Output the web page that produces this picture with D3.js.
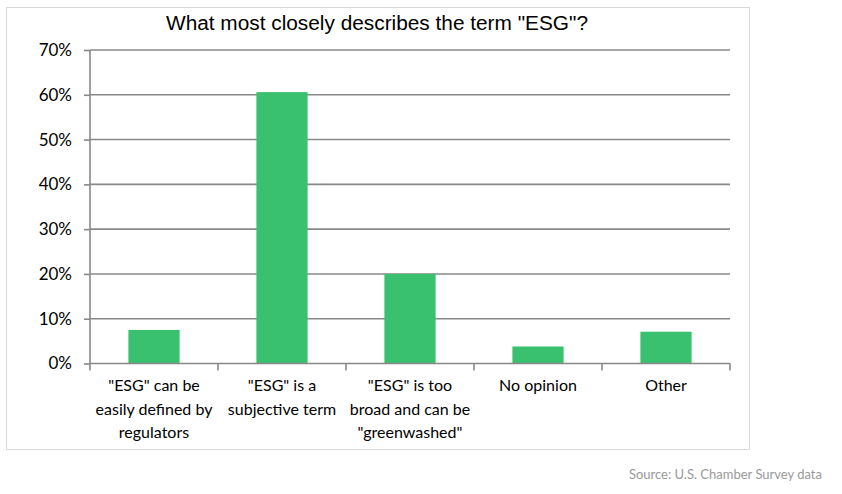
<!DOCTYPE html>
<html><head><meta charset="utf-8">
<script src="https://cdn.jsdelivr.net/npm/d3@7"></script>
<style>body{margin:0;background:#fff}svg{display:block}</style>
</head><body>
<svg id="c" width="842" height="494"></svg>
<script>
const categories = [
  ['"ESG" can be', 'easily defined by', 'regulators'],
  ['"ESG" is a', 'subjective term'],
  ['"ESG" is too', 'broad and can be', '"greenwashed"'],
  ['No opinion'],
  ['Other']
];
const values = [0.075, 0.606, 0.20, 0.038, 0.071];
const yTicks = [0, 0.1, 0.2, 0.3, 0.4, 0.5, 0.6, 0.7];
const title = 'What most closely describes the term "ESG"?';
const source = 'Source: U.S. Chamber Survey data';

(function () {
const svg = d3.select('#c');
const mL = 90, mR = 730, mT = 50, mB = 363.5;
const font = 'Lato, "Open Sans", sans-serif';

svg.append('rect').attr('x', 6.5).attr('y', 7.5).attr('width', 743).attr('height', 442)
  .attr('fill', '#fff').attr('stroke', '#d9d9d9').attr('stroke-width', 1);

const x = d3.scaleBand().domain(d3.range(categories.length)).range([mL, mR]).padding(0);
const y = d3.scaleLinear().domain([0, 0.7]).range([mB, mT]);

// gridlines
svg.append('g').selectAll('line').data(yTicks.filter(d => d > 0)).join('line')
  .attr('x1', mL).attr('x2', mR).attr('y1', d => y(d)).attr('y2', d => y(d))
  .attr('stroke', '#888').attr('stroke-width', 1.6);

// bars
const bw = x.bandwidth() * 0.4;
svg.append('g').selectAll('rect').data(values).join('rect')
  .attr('x', (d, i) => x(i) + (x.bandwidth() - bw) / 2)
  .attr('width', bw)
  .attr('y', d => y(d)).attr('height', d => y(0) - y(d))
  .attr('fill', '#39c16f');

// y axis
const yAxis = d3.axisLeft(y).tickValues(yTicks).tickFormat(d3.format('.0%')).tickSize(6).tickPadding(12);
const ga = svg.append('g').attr('transform', `translate(${mL},0)`).call(yAxis);
ga.select('.domain').attr('stroke', '#888').attr('stroke-width', 1.6).attr('d', `M0,${mT}V${mB}`);
ga.selectAll('.tick line').attr('stroke', '#888').attr('stroke-width', 1.6);
ga.selectAll('.tick text').attr('fill', '#000').attr('font-family', font).attr('font-size', 17);

// x axis
const gx = svg.append('g').attr('transform', `translate(0,${mB})`);
gx.append('line').attr('x1', mL).attr('x2', mR).attr('stroke', '#888').attr('stroke-width', 1.6);
const edges = d3.range(categories.length + 1).map(i => mL + i * x.step());
gx.selectAll('line.tk').data(edges).join('line').attr('class', 'tk')
  .attr('x1', d => d).attr('x2', d => d).attr('y1', 0).attr('y2', 7)
  .attr('stroke', '#888').attr('stroke-width', 1.6);

// category labels
const lab = svg.append('g');
categories.forEach((lines, i) => {
  const t = lab.append('text').attr('text-anchor', 'middle').attr('font-family', font)
    .attr('font-size', 16).attr('fill', '#000');
  lines.forEach((ln, j) => {
    t.append('tspan').attr('x', x(i) + x.bandwidth() / 2).attr('y', 391 + j * 23.5).text(ln);
  });
});

// title
svg.append('text').attr('x', 377).attr('y', 30).attr('text-anchor', 'middle')
  .attr('font-family', '"Liberation Sans", Arial, sans-serif').attr('font-size', 20)
  .attr('textLength', 422).attr('lengthAdjust', 'spacingAndGlyphs').attr('fill', '#000').text(title);

// source
svg.append('text').attr('x', 822).attr('y', 479).attr('text-anchor', 'end')
  .attr('font-family', font).attr('font-size', 13).attr('fill', '#999').text(source);
})();
</script>
</body></html>
